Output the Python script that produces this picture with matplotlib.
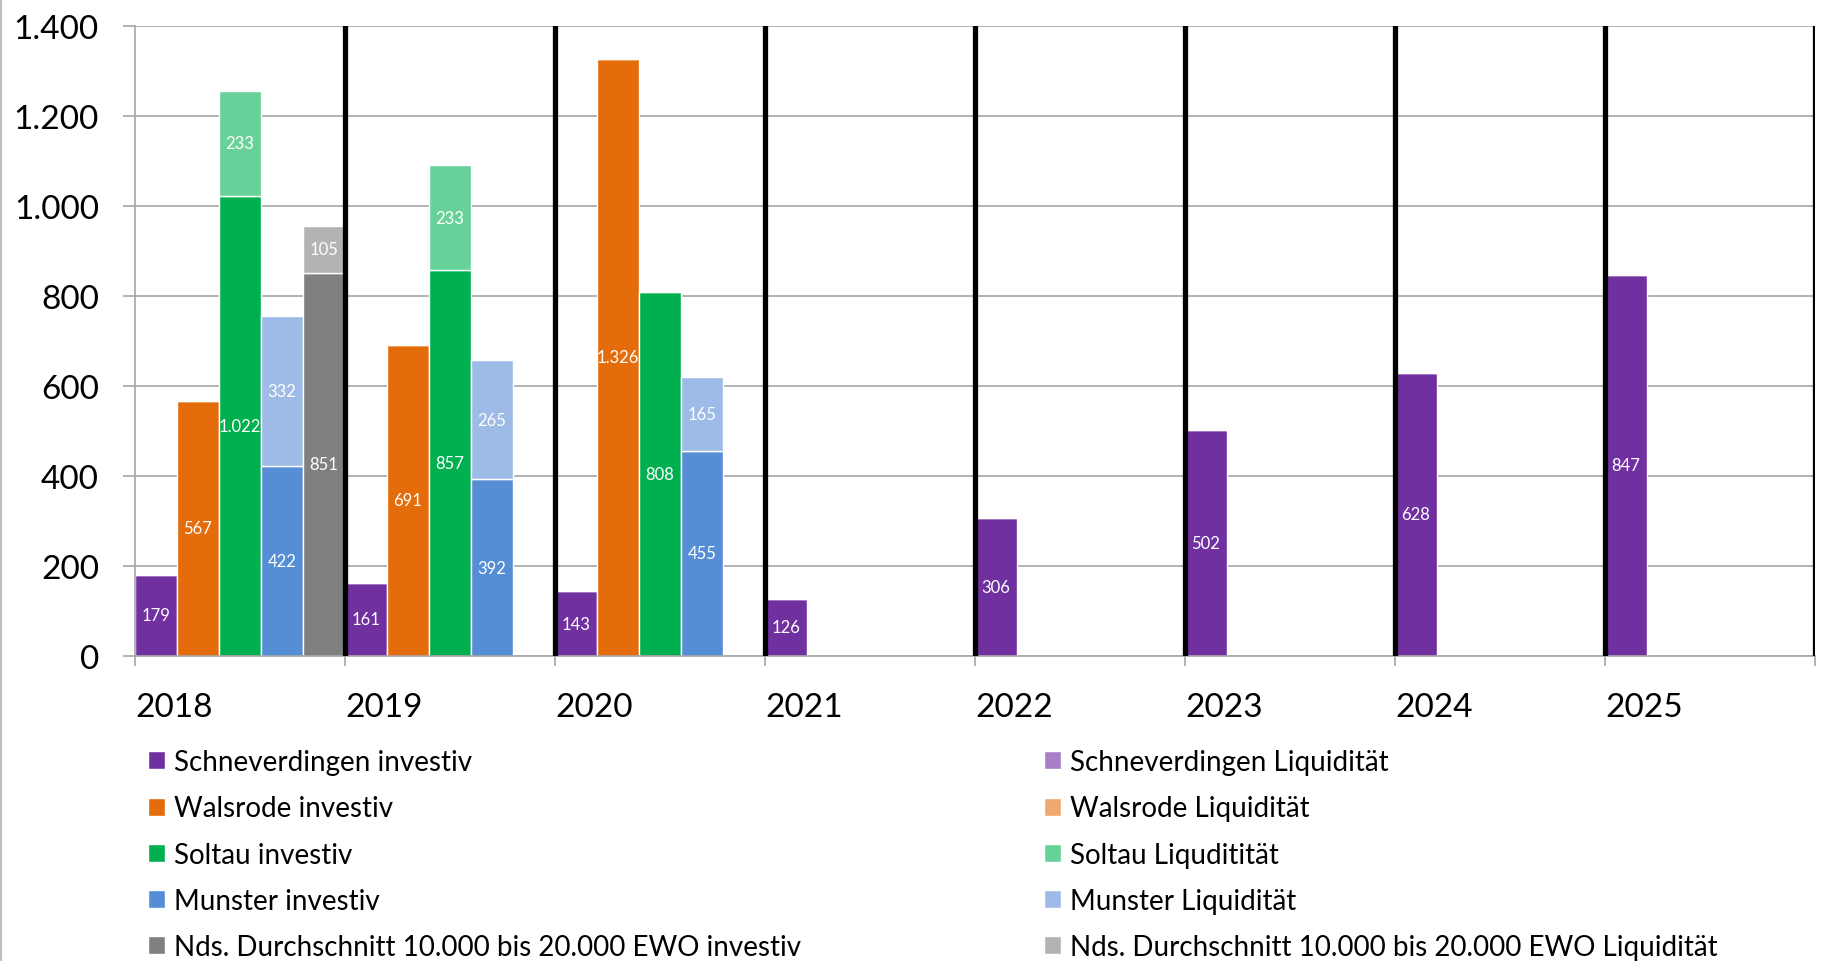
import numpy as np
import matplotlib.pyplot as plt
from matplotlib.lines import Line2D

plt.rcParams['font.family'] = ['Lato', 'DejaVu Sans']

years = ['2018', '2019', '2020', '2021', '2022', '2023', '2024', '2025']

# values per year (0 = no bar)
schnev_inv = [179, 161, 143, 126, 306, 502, 628, 847]
schnev_liq = [0, 0, 0, 0, 0, 0, 0, 0]
walsrode_inv = [567, 691, 1326, 0, 0, 0, 0, 0]
walsrode_liq = [0, 0, 0, 0, 0, 0, 0, 0]
soltau_inv = [1022, 857, 808, 0, 0, 0, 0, 0]
soltau_liq = [233, 233, 0, 0, 0, 0, 0, 0]
munster_inv = [422, 392, 455, 0, 0, 0, 0, 0]
munster_liq = [332, 265, 165, 0, 0, 0, 0, 0]
nds_inv = [851, 0, 0, 0, 0, 0, 0, 0]
nds_liq = [105, 0, 0, 0, 0, 0, 0, 0]

inv_labels = ['Schneverdingen investiv', 'Walsrode investiv', 'Soltau investiv',
              'Munster investiv', 'Nds. Durchschnitt 10.000 bis 20.000 EWO investiv']
liq_labels = ['Schneverdingen Liquidität', 'Walsrode Liquidität', 'Soltau Liquditität',
              'Munster Liquidität', 'Nds. Durchschnitt 10.000 bis 20.000 EWO Liquidität']
inv_colors = ['#7030A0', '#E46C0A', '#00B050', '#558ED5', '#808080']
liq_colors = ['#A97FC8', '#F0A870', '#66D198', '#9DBBE6', '#B3B3B3']

inv_series = [schnev_inv, walsrode_inv, soltau_inv, munster_inv, nds_inv]
liq_series = [schnev_liq, walsrode_liq, soltau_liq, munster_liq, nds_liq]


def fmt(v):
    return f'{v:,}'.replace(',', '.')


fig = plt.figure(figsize=(18.22, 9.62), dpi=100)
ax = fig.add_axes([135 / 1822, 1 - 656.7 / 962, 1680 / 1822, 630 / 962])

x = np.arange(len(years))
w = 0.2
inv_handles, liq_handles = [], []
for i in range(5):
    inv = np.array(inv_series[i])
    liq = np.array(liq_series[i])
    pos = x + (i + 0.5) * w
    b1 = ax.bar(pos, inv, w, color=inv_colors[i], edgecolor='white', linewidth=1, zorder=2)
    b2 = ax.bar(pos, liq, w, bottom=inv, color=liq_colors[i], edgecolor='white', linewidth=1, zorder=2)
    inv_handles.append(b1)
    liq_handles.append(b2)
    for xp, a, b in zip(pos, inv, liq):
        if a > 0:
            ax.text(xp, a / 2, fmt(a), ha='center', va='center', color='white', fontsize=12, zorder=3)
        if b > 0:
            ax.text(xp, a + b / 2, fmt(b), ha='center', va='center', color='white', fontsize=12, zorder=3)

# black year separators
for k in range(1, len(years) + 1):
    ax.axvline(k, color='black', linewidth=3.8, zorder=4)

ax.set_xlim(0, len(years))
ax.set_ylim(0, 1400)
ax.set_yticks(range(0, 1401, 200))
ax.set_yticklabels([fmt(v) for v in range(0, 1401, 200)], fontsize=24)
ax.set_xticks(range(len(years) + 1))
ax.set_xticklabels(years + [''], fontsize=24, ha='left')
ax.tick_params(axis='y', length=9, width=1.2, color='#A6A6A6', pad=17)
ax.tick_params(axis='x', length=7, width=1.2, color='#A6A6A6', pad=19)
ax.yaxis.grid(True, color='#A6A6A6', linewidth=1.2, zorder=0)
ax.set_axisbelow(True)
for s in ['top', 'right']:
    ax.spines[s].set_visible(False)
for s in ['left', 'bottom']:
    ax.spines[s].set_color('#A6A6A6')
    ax.spines[s].set_linewidth(1.2)

leg_kw = dict(frameon=False, fontsize=20, handlelength=0.62, handleheight=0.62,
              handletextpad=0.3, labelspacing=0.73, borderpad=0, borderaxespad=0)
fig.legend(inv_handles, inv_labels, loc='upper left',
           bbox_to_anchor=(148 / 1822, 1 - 750 / 962), **leg_kw)
fig.legend(liq_handles, liq_labels, loc='upper left',
           bbox_to_anchor=(1044 / 1822, 1 - 750 / 962), **leg_kw)

fig.add_artist(Line2D([0.0008, 0.0008], [0, 1], color='#BFBFBF', linewidth=1.5,
                      transform=fig.transFigure))

fig.savefig('out.png', dpi=100, facecolor='white')
